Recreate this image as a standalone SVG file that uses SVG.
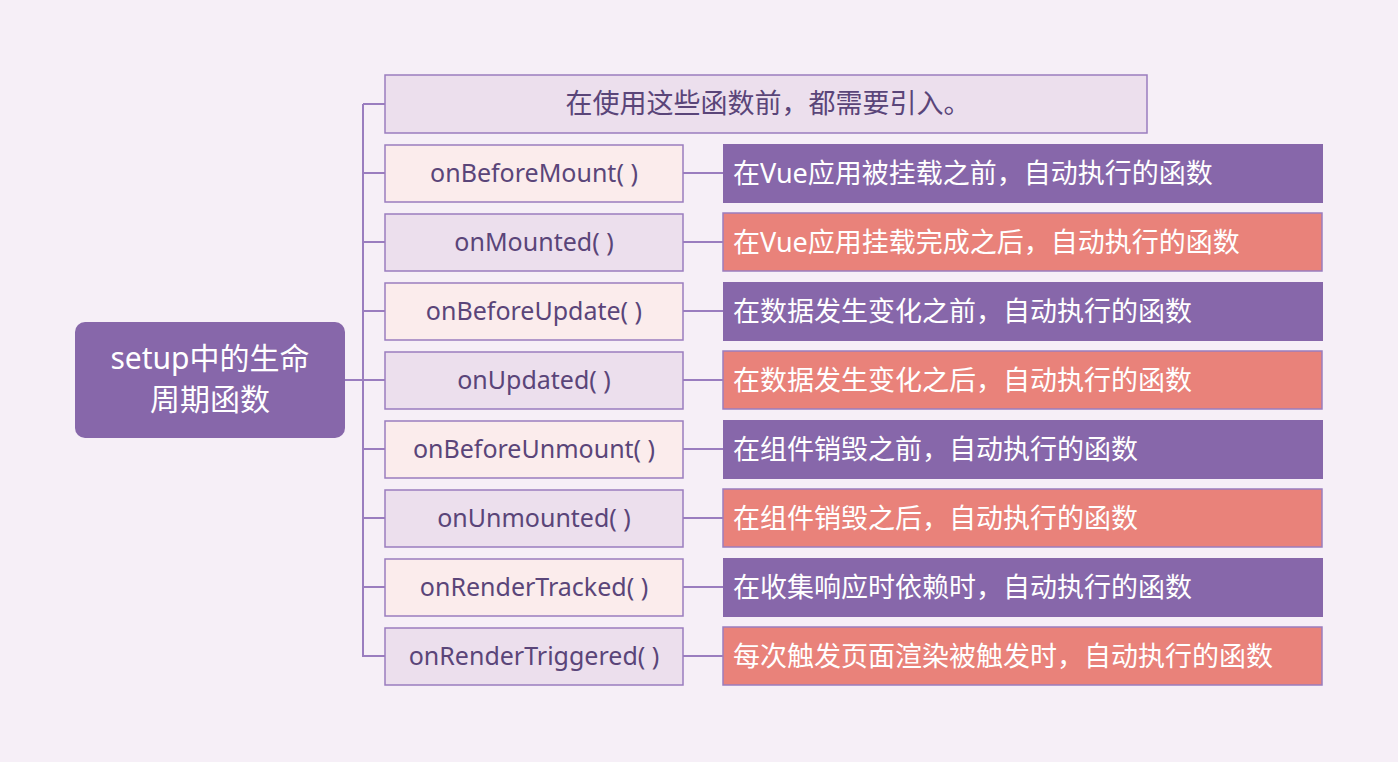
<svg xmlns="http://www.w3.org/2000/svg" width="1398" height="762" viewBox="0 0 1398 762">
<style>
.bg{fill:#f6eff7}
.ln{stroke:#9a7dbf;stroke-width:2;fill:none}
.fa{fill:#fbecec;stroke:#9a7dbf;stroke-width:1.5}
.fb{fill:#ecdfed;stroke:#9a7dbf;stroke-width:1.5}
.rp{fill:#8767aa}
.rs{fill:#e9827a;stroke:#9a7dbf;stroke-width:1.5}
.ft{font-family:"Noto Sans","Noto Sans CJK SC",sans-serif;font-size:25px;fill:#5a4579;text-anchor:middle}
.rt{font-family:"Noto Sans","Noto Sans CJK SC",sans-serif;font-size:27px;fill:#ffffff}
.tt{font-family:"Noto Sans CJK SC","Noto Sans",sans-serif;font-size:27px;fill:#5a4579;text-anchor:middle}
.root{font-family:"Noto Sans","Noto Sans CJK SC",sans-serif;font-size:30px;fill:#ffffff;text-anchor:middle}
</style>
<rect class="bg" x="0" y="0" width="1398" height="762"/>
<g id="connectors">
<path class="ln" d="M345 380H363M363 104V657"/>
<path class="ln" d="M363 104H385M363 173H385M363 242H385M363 311H385M363 380H385M363 449H385M363 518H385M363 587H385M363 656H385"/>
<path class="ln" d="M683 173H723M683 242H723M683 311H723M683 380H723M683 449H723M683 518H723M683 587H723M683 656H723"/>
</g>
<g id="root">
<rect x="75" y="322" width="270" height="116" rx="10" fill="#8767aa"/>
<text class="root" x="210" y="369">setup中的生命</text>
<text class="root" x="210" y="410">周期函数</text>
</g>
<g id="note">
<rect class="fb" x="385" y="75" width="762" height="58"/>
<text class="tt" x="768" y="113">在使用这些函数前，都需要引入。</text>
</g>
<g id="f1"><rect class="fa" x="385" y="145" width="298" height="57"/><text class="ft" x="534" y="182">onBeforeMount( )</text></g>
<g id="f2"><rect class="fb" x="385" y="214" width="298" height="57"/><text class="ft" x="534" y="251">onMounted( )</text></g>
<g id="f3"><rect class="fa" x="385" y="283" width="298" height="57"/><text class="ft" x="534" y="320">onBeforeUpdate( )</text></g>
<g id="f4"><rect class="fb" x="385" y="352" width="298" height="57"/><text class="ft" x="534" y="389">onUpdated( )</text></g>
<g id="f5"><rect class="fa" x="385" y="421" width="298" height="57"/><text class="ft" x="534" y="458">onBeforeUnmount( )</text></g>
<g id="f6"><rect class="fb" x="385" y="490" width="298" height="57"/><text class="ft" x="534" y="527">onUnmounted( )</text></g>
<g id="f7"><rect class="fa" x="385" y="559" width="298" height="57"/><text class="ft" x="534" y="596">onRenderTracked( )</text></g>
<g id="f8"><rect class="fb" x="385" y="628" width="298" height="57"/><text class="ft" x="534" y="665">onRenderTriggered( )</text></g>
<g id="d1"><rect class="rp" x="723" y="144" width="600" height="59"/><text class="rt" x="733" y="183">在Vue应用被挂载之前，自动执行的函数</text></g>
<g id="d2"><rect class="rs" x="723" y="213" width="599" height="58"/><text class="rt" x="733" y="252">在Vue应用挂载完成之后，自动执行的函数</text></g>
<g id="d3"><rect class="rp" x="723" y="282" width="600" height="59"/><text class="rt" x="733" y="321">在数据发生变化之前，自动执行的函数</text></g>
<g id="d4"><rect class="rs" x="723" y="351" width="599" height="58"/><text class="rt" x="733" y="390">在数据发生变化之后，自动执行的函数</text></g>
<g id="d5"><rect class="rp" x="723" y="420" width="600" height="59"/><text class="rt" x="733" y="459">在组件销毁之前，自动执行的函数</text></g>
<g id="d6"><rect class="rs" x="723" y="489" width="599" height="58"/><text class="rt" x="733" y="528">在组件销毁之后，自动执行的函数</text></g>
<g id="d7"><rect class="rp" x="723" y="558" width="600" height="59"/><text class="rt" x="733" y="597">在收集响应时依赖时，自动执行的函数</text></g>
<g id="d8"><rect class="rs" x="723" y="627" width="599" height="58"/><text class="rt" x="733" y="666">每次触发页面渲染被触发时，自动执行的函数</text></g>
</svg>
